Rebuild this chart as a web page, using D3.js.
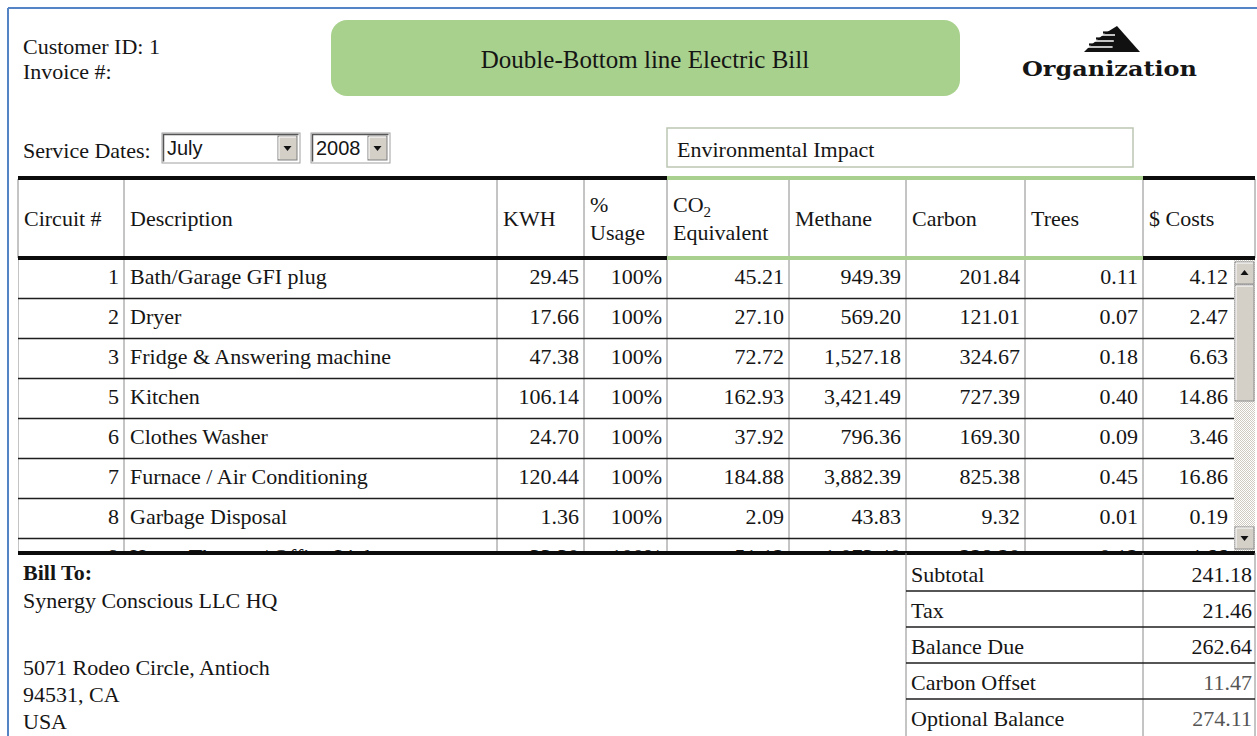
<!DOCTYPE html>
<html>
<head>
<meta charset="utf-8">
<script src="https://cdn.jsdelivr.net/npm/d3@7"></script>
<style>
  body { margin: 0; background: #fff; }
  svg text { font-family: "Liberation Serif", "Times New Roman", serif; fill: #151515; }
  svg text.sans { font-family: "Liberation Sans", Arial, sans-serif; }
</style>
</head>
<body>
<div id="bill"></div>
<script>
// bill data
var circuits = [1, 2, 3, 5, 6, 7, 8, 9];
var descriptions = ["Bath/Garage GFI plug", "Dryer", "Fridge & Answering machine", "Kitchen",
  "Clothes Washer", "Furnace / Air Conditioning", "Garbage Disposal", "Home Theater / Office Lights"];
var kwh = [29.45, 17.66, 47.38, 106.14, 24.70, 120.44, 1.36, 33.30];
var usage = [100, 100, 100, 100, 100, 100, 100, 100];
var co2 = [45.21, 27.10, 72.72, 162.93, 37.92, 184.88, 2.09, 51.12];
var methane = [949.39, 569.20, 1527.18, 3421.49, 796.36, 3882.39, 43.83, 1073.40];
var carbon = [201.84, 121.01, 324.67, 727.39, 169.30, 825.38, 9.32, 228.20];
var trees = [0.11, 0.07, 0.18, 0.40, 0.09, 0.45, 0.01, 0.12];
var costs = [4.12, 2.47, 6.63, 14.86, 3.46, 16.86, 0.19, 4.66];

var headers = [["Circuit #"], ["Description"], ["KWH"], ["%", "Usage"], ["CO|2", "Equivalent"],
  ["Methane"], ["Carbon"], ["Trees"], ["$ Costs"]];

var totalLabels = ["Subtotal", "Tax", "Balance Due", "Carbon Offset", "Optional Balance"];
var totalValues = [241.18, 21.46, 262.64, 11.47, 274.11];

var customerId = 1;
var serviceMonth = "July";
var serviceYear = "2008";
var billTo = "Synergy Conscious LLC HQ";
var address = ["5071 Rodeo Circle, Antioch", "94531, CA", "USA"];

var width = 1257,
    height = 736;

var svg = d3.select("#bill")
    .append("svg")
    .attr("width", width)
    .attr("height", height);

var defs = svg.append("defs");
var pat = defs.append("pattern")
    .attr("id", "track")
    .attr("width", 2).attr("height", 2)
    .attr("patternUnits", "userSpaceOnUse");
pat.append("rect").attr("width", 2).attr("height", 2).attr("fill", "#fff");
pat.append("rect").attr("width", 1).attr("height", 1).attr("fill", "#cfcbc2");
pat.append("rect").attr("x", 1).attr("y", 1).attr("width", 1).attr("height", 1).attr("fill", "#cfcbc2");

// page frame
svg.append("line").attr("x1", 8).attr("y1", 8).attr("x2", width).attr("y2", 8)
    .attr("stroke", "#5683c4").attr("stroke-width", 2);
svg.append("line").attr("x1", 8).attr("y1", 8).attr("x2", 8).attr("y2", height)
    .attr("stroke", "#5683c4").attr("stroke-width", 2);

var fs = 22;

// customer block
svg.append("text").attr("x", 23).attr("y", 46).attr("dy", "0.35em")
    .style("font-size", fs + "px").text("Customer ID: " + customerId);
svg.append("text").attr("x", 23).attr("y", 71).attr("dy", "0.35em")
    .style("font-size", fs + "px").text("Invoice #:");

// title badge
svg.append("rect")
    .attr("x", 331).attr("y", 20).attr("width", 629).attr("height", 76)
    .attr("rx", 16).attr("fill", "#a9d18e");
svg.append("text").attr("x", 645).attr("y", 59).attr("dy", "0.35em")
    .attr("text-anchor", "middle").style("font-size", "25px")
    .text("Double-Bottom line Electric Bill");

// logo
var logo = svg.append("g");
logo.append("path")
    .attr("d", "M1117,26 L1140,52 L1084,52 L1090,46 L1097,40 L1104,34 Z")
    .attr("fill", "#111");
[35, 41, 47].forEach(function (y) {
  logo.append("line").attr("x1", 1080).attr("x2", 1116 - (y - 30) * 0.2).attr("y1", y).attr("y2", y)
      .attr("stroke", "#fff").attr("stroke-width", 1.6);
});
[34, 40, 46].forEach(function (y, i) {
  logo.append("line").attr("x1", 1103 - i * 7).attr("x2", 1112).attr("y1", y - 1.5).attr("y2", y - 1.5)
      .attr("stroke", "#111").attr("stroke-width", 2.2);
});
svg.append("text").attr("x", 1022).attr("y", 69).attr("dy", "0.35em")
    .attr("textLength", 175).attr("lengthAdjust", "spacingAndGlyphs")
    .style("font-family", "'DejaVu Serif', serif").style("font-weight", "bold")
    .style("font-size", "21px").text("Organization");

// service dates with the two select boxes
svg.append("text").attr("x", 23).attr("y", 150).attr("dy", "0.35em")
    .style("font-size", fs + "px").text("Service Dates:");

function selectBox(x, w, label) {
  var g = svg.append("g");
  g.append("rect").attr("x", x).attr("y", 133).attr("width", w).attr("height", 30)
      .attr("fill", "#fff").attr("stroke", "#a0a0a0");
  g.append("path").attr("d", "M" + (x + 1.5) + ",161.5 V134.5 H" + (x + w - 1.5))
      .attr("fill", "none").attr("stroke", "#555").attr("stroke-width", 1.5);
  var bx = x + w - 22;
  g.append("rect").attr("x", bx).attr("y", 136).attr("width", 19).attr("height", 24)
      .attr("fill", "#d4d0c8").attr("stroke", "#808080");
  g.append("path").attr("d", "M" + (bx + 1) + ",159 V137 H" + (bx + 18))
      .attr("fill", "none").attr("stroke", "#fff");
  g.append("path").attr("d", "M" + (bx + 5.5) + ",146 h8 l-4,5 z").attr("fill", "#111");
  g.append("text").attr("class", "sans").attr("x", x + 5).attr("y", 148).attr("dy", "0.36em")
      .style("font-size", "20px").text(label);
}
selectBox(162, 138, serviceMonth);
selectBox(311, 79, serviceYear);

// environmental impact caption
svg.append("rect").attr("x", 667).attr("y", 128).attr("width", 466).attr("height", 39)
    .attr("fill", "none").attr("stroke", "#bcc6b2").attr("stroke-width", 1.5);
svg.append("text").attr("x", 677).attr("y", 149).attr("dy", "0.35em")
    .style("font-size", fs + "px").text("Environmental Impact");

// table geometry
var colEdges = [18, 124, 497, 584, 667, 789, 906, 1025, 1143, 1255];
var envLeft = colEdges[4], envRight = colEdges[8];
var headTop = 179, headBottom = 258, bodyBottom = 553, scrollX = 1234;

var rowIdx = d3.range(circuits.length);
var y = d3.scaleBand().domain(rowIdx).range([headBottom + 2, headBottom + 2 + 40 * rowIdx.length]);

var f2 = d3.format(",.2f");
var columns = [
  { values: circuits, fmt: String, align: "end" },
  { values: descriptions, fmt: String, align: "start" },
  { values: kwh, fmt: f2, align: "end" },
  { values: usage, fmt: function (v) { return v + "%"; }, align: "end" },
  { values: co2, fmt: f2, align: "end" },
  { values: methane, fmt: f2, align: "end" },
  { values: carbon, fmt: f2, align: "end" },
  { values: trees, fmt: f2, align: "end" },
  { values: costs, fmt: f2, align: "end" }
];

// header
var head = svg.append("g");
head.selectAll("line.v").data(colEdges).enter().append("line")
    .attr("x1", function (d) { return d; }).attr("x2", function (d) { return d; })
    .attr("y1", headTop).attr("y2", headBottom)
    .attr("stroke", "#8a8a8a").attr("stroke-width", 1);

headers.forEach(function (lines, i) {
  var cy = (headTop + headBottom) / 2;
  lines.forEach(function (txt, j) {
    var ty = lines.length === 1 ? cy : cy - 14 + j * 28;
    var t = head.append("text").attr("x", colEdges[i] + 6).attr("y", ty).attr("dy", "0.35em")
        .style("font-size", fs + "px");
    if (txt.indexOf("|") >= 0) {
      var parts = txt.split("|");
      t.append("tspan").text(parts[0]);
      t.append("tspan").attr("dy", "5").style("font-size", "15px").text(parts[1]);
    } else {
      t.text(txt);
    }
  });
});

// body rows (clipped like the scrolling div)
defs.append("clipPath").attr("id", "bodyclip").append("rect")
    .attr("x", colEdges[0]).attr("y", headBottom).attr("width", scrollX - colEdges[0])
    .attr("height", bodyBottom - headBottom);

var body = svg.append("g").attr("clip-path", "url(#bodyclip)");

body.selectAll("line.v").data(colEdges.slice(0, 9)).enter().append("line")
    .attr("x1", function (d) { return d; }).attr("x2", function (d) { return d; })
    .attr("y1", headBottom).attr("y2", bodyBottom)
    .attr("stroke", "#8a8a8a").attr("stroke-width", 1);

body.selectAll("line.h").data(rowIdx).enter().append("line")
    .attr("x1", colEdges[0]).attr("x2", scrollX)
    .attr("y1", function (d) { return y(d) + y.bandwidth() - 1.5; })
    .attr("y2", function (d) { return y(d) + y.bandwidth() - 1.5; })
    .attr("stroke", "#1e1e1e").attr("stroke-width", 1.6);

columns.forEach(function (col, c) {
  var right = c === 8 ? scrollX - 6 : colEdges[c + 1] - 5;
  body.selectAll("text.c" + c).data(rowIdx).enter().append("text")
      .attr("x", col.align === "end" ? right : colEdges[c] + 6)
      .attr("y", function (d) { return y(d) + y.bandwidth() / 2 - 4; })
      .attr("dy", "0.35em")
      .attr("text-anchor", col.align)
      .style("font-size", fs + "px")
      .text(function (d) { return col.fmt(col.values[d]); });
});

// scrollbar
var sb = svg.append("g");
sb.append("rect").attr("x", scrollX).attr("y", headBottom + 2).attr("width", 21)
    .attr("height", bodyBottom - headBottom - 4).attr("fill", "url(#track)");
function sbButton(y0, h, arrow) {
  sb.append("rect").attr("x", scrollX + 1).attr("y", y0).attr("width", 19).attr("height", h)
      .attr("fill", "#d4d0c8").attr("stroke", "#8c8c8c");
  sb.append("path").attr("d", "M" + (scrollX + 2) + "," + (y0 + h - 1) + " V" + (y0 + 1) + " H" + (scrollX + 19))
      .attr("fill", "none").attr("stroke", "#fff");
  if (arrow === "up") {
    sb.append("path").attr("d", "M" + (scrollX + 6.5) + "," + (y0 + h / 2 + 2) + " h8 l-4,-5 z").attr("fill", "#111");
  } else if (arrow === "down") {
    sb.append("path").attr("d", "M" + (scrollX + 6.5) + "," + (y0 + h / 2 - 2) + " h8 l-4,5 z").attr("fill", "#111");
  }
}
sbButton(headBottom + 4, 22, "up");
sbButton(headBottom + 27, 116, null);
sbButton(bodyBottom - 26, 22, "down");

// thick rules of the table
function rule(yy, green) {
  svg.append("rect").attr("x", colEdges[0]).attr("y", yy - 2).attr("width", colEdges[9] - colEdges[0])
      .attr("height", 4).attr("fill", "#0c0c0c");
  if (green) {
    svg.append("rect").attr("x", envLeft).attr("y", yy - 2).attr("width", envRight - envLeft)
        .attr("height", 4).attr("fill", "#a9d08e");
  }
}
rule(headTop - 1, true);
rule(headBottom, true);
rule(bodyBottom, false);

// bill to
svg.append("text").attr("x", 23).attr("y", 572).attr("dy", "0.35em")
    .style("font-size", fs + "px").style("font-weight", "bold").text("Bill To:");
svg.append("text").attr("x", 23).attr("y", 600).attr("dy", "0.35em")
    .style("font-size", fs + "px").text(billTo);
svg.selectAll("text.addr").data(address).enter().append("text")
    .attr("x", 23).attr("y", function (d, i) { return 667 + i * 27; }).attr("dy", "0.35em")
    .style("font-size", fs + "px").text(function (d) { return d; });

// totals
var tIdx = d3.range(totalLabels.length);
var ty = d3.scaleBand().domain(tIdx).range([bodyBottom + 2, bodyBottom + 2 + 36 * tIdx.length]);
var tot = svg.append("g");
[colEdges[6], colEdges[8], colEdges[9]].forEach(function (x) {
  tot.append("line").attr("x1", x).attr("x2", x).attr("y1", bodyBottom).attr("y2", height)
      .attr("stroke", "#8a8a8a");
});
tot.selectAll("line.h").data(tIdx.slice(0, 4)).enter().append("line")
    .attr("x1", colEdges[6]).attr("x2", colEdges[9])
    .attr("y1", function (d) { return ty(d) + ty.bandwidth(); })
    .attr("y2", function (d) { return ty(d) + ty.bandwidth(); })
    .attr("stroke", "#1e1e1e").attr("stroke-width", 1.3);
tot.selectAll("text.l").data(tIdx).enter().append("text")
    .attr("x", colEdges[6] + 5).attr("y", function (d) { return ty(d) + ty.bandwidth() / 2 + 1; })
    .attr("dy", "0.35em").style("font-size", fs + "px")
    .text(function (d) { return totalLabels[d]; });
tot.selectAll("text.v").data(tIdx).enter().append("text")
    .attr("x", colEdges[9] - 3).attr("y", function (d) { return ty(d) + ty.bandwidth() / 2 + 1; })
    .attr("dy", "0.35em").attr("text-anchor", "end").style("font-size", fs + "px")
    .style("fill", function (d) { return d >= 3 ? "#555" : "#151515"; })
    .text(function (d) { return f2(totalValues[d]); });
</script>
</body>
</html>
